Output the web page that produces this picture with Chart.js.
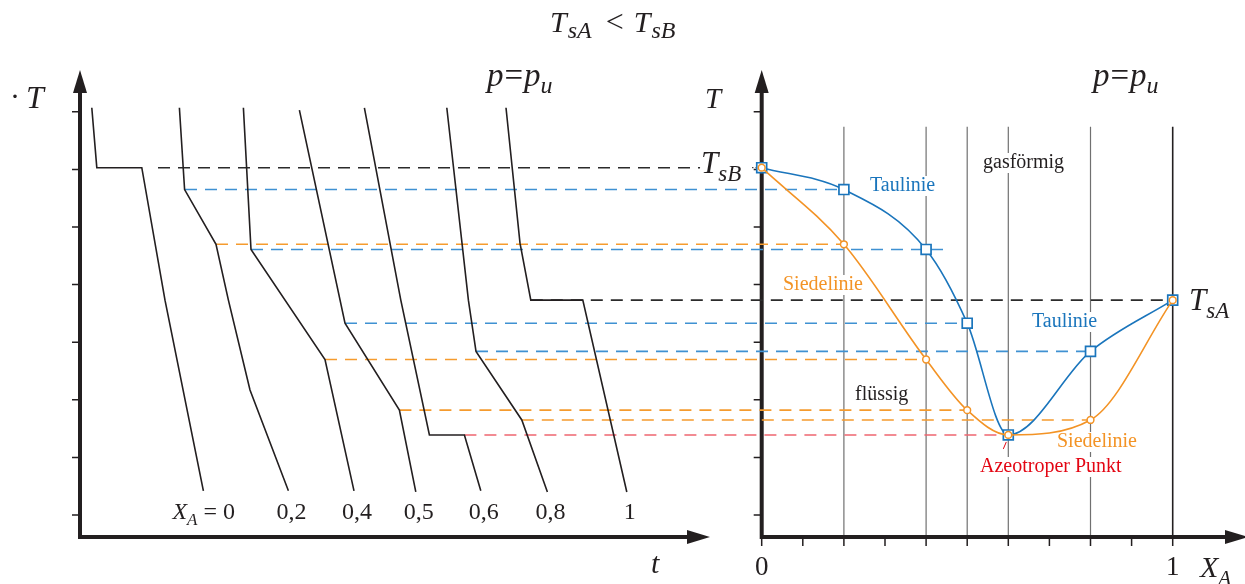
<!DOCTYPE html>
<html>
<head>
<meta charset="utf-8">
<script src="https://cdn.jsdelivr.net/npm/chart.js@4"></script>
<style>
  html, body { margin: 0; padding: 0; background: #fff; }
</style>
</head>
<body>
<canvas id="chart" width="1245" height="584"></canvas>
<script>
// compositions X_A of the seven samples
const compositions = [0, 0.2, 0.4, 0.5, 0.6, 0.8, 1];
// dew line (Taulinie) and boiling line (Siedelinie), T in axis tick units
const dewTemps = [6.03, 5.65, 4.61, 3.33, 1.39, 2.84, 3.73];
const boilTemps = [6.03, 4.70, 2.70, 1.82, 1.39, 1.65, 3.73];

// cooling curves T(t), one per composition
const coolTimes = [
    [0.59, 0.84, 3.09, 4.25, 6.17],
    [4.97, 5.23, 6.80, 7.42, 8.50, 10.42],
    [8.17, 8.55, 12.25, 13.70],
    [10.97, 13.25, 15.97, 16.79],
    [14.22, 16.04, 17.47, 19.22, 20.04],
    [18.34, 19.42, 19.80, 22.09, 23.37],
    [21.30, 22.00, 22.54, 25.14, 27.34]
];
const coolTemps = [
    [7.07, 6.03, 6.03, 3.73, 0.42],
    [7.07, 5.65, 4.70, 3.73, 2.17, 0.42],
    [7.07, 4.61, 2.70, 0.42],
    [7.03, 3.33, 1.82, 0.40],
    [7.07, 3.73, 1.39, 1.39, 0.42],
    [7.07, 3.73, 2.84, 1.65, 0.40],
    [7.07, 4.72, 3.73, 3.73, 0.40]
];
const coolLabels = ["0", "0,2", "0,4", "0,5", "0,6", "0,8", "1"];

// dashed links from the cooling curves to the T-X diagram
const linkTemps = [6.03, 5.65, 4.70, 4.61, 3.73, 3.33, 2.84, 2.70, 1.82, 1.65, 1.39];
const linkStartT = [3.90, 5.25, 6.80, 8.55, 22.54, 13.25, 19.80, 12.25, 15.97, 22.09, 19.22];
const linkEndX = [-0.15, 0.2, 0.2, 0.453, 1, 0.5, 0.8, 0.4, 0.5, 0.8, 0.6];
const linkKinds = ["pure", "dew", "boil", "dew", "pure", "dew", "dew", "boil", "boil", "boil", "azeo"];

const tTicks = [0, 1, 2, 3, 4, 5, 6, 7];
const xaTicks = [0, 0.1, 0.2, 0.3, 0.4, 0.5, 0.6, 0.7, 0.8, 0.9, 1];

const INK = "#231f20";
const BLUE = "#1a75bc";
const ORANGE = "#f39325";
const RED = "#e30613";
const linkColors = { pure: "#2b2b2b", dew: "#3f91d2", boil: "#f59b2e", azeo: "#ee6670" };
const SERIF = '"Liberation Serif", "DejaVu Serif", serif';

function setFont(ctx, p) {
    ctx.font = (p.i ? "italic " : "") + p.s + "px " + SERIF;
}

function drawParts(ctx, x, y, parts, align, bg) {
    let w = 0;
    parts.forEach(p => { setFont(ctx, p); w += ctx.measureText(p.text).width + (p.gap || 0); });
    let cx = align === "center" ? x - w / 2 : align === "right" ? x - w : x;
    if (bg) {
        ctx.fillStyle = "#fff";
        ctx.fillRect(cx - 2, y - parts[0].s * 0.75, w + 4, parts[0].s);
    }
    ctx.fillStyle = parts[0].c || INK;
    ctx.textBaseline = "alphabetic";
    ctx.textAlign = "left";
    parts.forEach(p => {
        setFont(ctx, p);
        ctx.fillText(p.text, cx, y + (p.dy || 0));
        cx += ctx.measureText(p.text).width + (p.gap || 0);
    });
}

function arrow(ctx, tipX, tipY, dir) {
    ctx.beginPath();
    if (dir === "up") {
        ctx.moveTo(tipX, tipY);
        ctx.lineTo(tipX - 7, tipY + 23);
        ctx.lineTo(tipX + 7, tipY + 23);
    } else {
        ctx.moveTo(tipX, tipY);
        ctx.lineTo(tipX - 23, tipY - 7);
        ctx.lineTo(tipX - 23, tipY + 7);
    }
    ctx.closePath();
    ctx.fill();
}

const diagramPlugin = {
    id: "diagram",
    beforeDatasetsDraw(chart) {
        const ctx = chart.ctx;
        const { t, xa, y } = chart.scales;
        const area = chart.chartArea;
        const x0 = area.left;
        const xr = xa.getPixelForValue(0);
        const yb = area.bottom;
        ctx.save();

        // composition lines in the T-X diagram
        const top = y.getPixelForValue(6.74);
        compositions.slice(1).forEach(c => {
            const px = xa.getPixelForValue(c);
            ctx.strokeStyle = c === 1 ? INK : "#707070";
            ctx.lineWidth = c === 1 ? 1.6 : 1.2;
            ctx.beginPath();
            ctx.moveTo(px, top);
            ctx.lineTo(px, yb);
            ctx.stroke();
        });

        // axes
        ctx.strokeStyle = INK;
        ctx.fillStyle = INK;
        ctx.lineWidth = 4;
        ctx.beginPath();
        ctx.moveTo(x0, yb + 2); ctx.lineTo(x0, area.top + 20);
        ctx.moveTo(x0 - 2, yb); ctx.lineTo(688, yb);
        ctx.moveTo(xr, yb + 2); ctx.lineTo(xr, area.top + 20);
        ctx.moveTo(xr - 2, yb); ctx.lineTo(1226, yb);
        ctx.stroke();
        arrow(ctx, x0, area.top, "up");
        arrow(ctx, xr, area.top, "up");
        arrow(ctx, 710, yb, "right");
        arrow(ctx, 1248, yb, "right");

        ctx.lineWidth = 1.5;
        ctx.beginPath();
        tTicks.forEach(v => {
            const py = y.getPixelForValue(v);
            ctx.moveTo(x0 - 8, py); ctx.lineTo(x0, py);
            ctx.moveTo(xr - 8, py); ctx.lineTo(xr, py);
        });
        xaTicks.forEach(v => {
            const px = xa.getPixelForValue(v);
            ctx.moveTo(px, yb); ctx.lineTo(px, yb + 9);
        });
        ctx.stroke();

        // region and line labels
        const lab = (txt, x, yy, c) => drawParts(ctx, x, yy, [{ text: txt, s: 20, c: c }], "left", true);
        lab("Taulinie", 870, 191, BLUE);
        lab("Siedelinie", 783, 290, ORANGE);
        lab("gasförmig", 983, 168, INK);
        lab("flüssig", 855, 400, INK);
        lab("Taulinie", 1032, 327, BLUE);
        lab("Siedelinie", 1057, 447, ORANGE);
        lab("Azeotroper Punkt", 980, 472, RED);

        // pointer to the azeotropic point
        const az = compositions.indexOf(0.6);
        const ax = xa.getPixelForValue(compositions[az]);
        const ay = y.getPixelForValue(dewTemps[az]);
        ctx.strokeStyle = RED;
        ctx.lineWidth = 1;
        ctx.beginPath();
        ctx.moveTo(ax - 2, ay + 7);
        ctx.lineTo(ax - 5, ay + 14);
        ctx.stroke();

        // dashed links
        ctx.lineWidth = 1.6;
        ctx.setLineDash([12, 8]);
        linkTemps.forEach((T, i) => {
            const py = y.getPixelForValue(T);
            ctx.strokeStyle = linkColors[linkKinds[i]];
            ctx.beginPath();
            ctx.moveTo(t.getPixelForValue(linkStartT[i]), py);
            ctx.lineTo(xa.getPixelForValue(linkEndX[i]), py);
            ctx.stroke();
        });
        // dotted lead from T_sB label to the axis
        ctx.strokeStyle = INK;
        ctx.lineWidth = 1;
        ctx.setLineDash([1.5, 2]);
        const pyB = y.getPixelForValue(dewTemps[0]);
        ctx.beginPath();
        ctx.moveTo(752, pyB);
        ctx.lineTo(xr, pyB);
        ctx.stroke();
        ctx.setLineDash([]);

        ctx.restore();
    },
    afterDraw(chart) {
        const ctx = chart.ctx;
        const { t, xa, y } = chart.scales;
        ctx.save();

        // cooling curve labels under each curve
        coolLabels.forEach((txt, i) => {
            const times = coolTimes[i];
            const px = t.getPixelForValue(times[times.length - 1]);
            if (i === 0) {
                drawParts(ctx, px - 31, 519, [
                    { text: "X", s: 24, i: true },
                    { text: "A", s: 17, i: true, dy: 6 },
                    { text: " = " + txt, s: 24 }
                ], "left");
            } else {
                drawParts(ctx, px + 3, 519, [{ text: txt, s: 24 }], "center");
            }
        });

        // headings and axis titles
        drawParts(ctx, 550, 32, [
            { text: "T", s: 30, i: true, gap: 1 },
            { text: "sA", s: 24, i: true, dy: 6, gap: 14 },
            { text: "<", s: 32, gap: 10 },
            { text: "T", s: 30, i: true, gap: 1 },
            { text: "sB", s: 24, i: true, dy: 6 }
        ], "left");
        const pu = [
            { text: "p", s: 33, i: true, gap: 1 },
            { text: "=", s: 33, gap: 1 },
            { text: "p", s: 33, i: true },
            { text: "u", s: 24, i: true, dy: 7 }
        ];
        drawParts(ctx, 487, 86, pu, "left");
        drawParts(ctx, 1093, 86, pu, "left");
        drawParts(ctx, 10, 106, [{ text: "·", s: 30 }], "left");
        drawParts(ctx, 26, 108, [{ text: "T", s: 32, i: true }], "left");
        drawParts(ctx, 705, 108, [{ text: "T", s: 29, i: true }], "left");
        drawParts(ctx, 651, 573, [{ text: "t", s: 30, i: true }], "left");
        drawParts(ctx, xa.getPixelForValue(0), 575, [{ text: "0", s: 27 }], "center");
        drawParts(ctx, xa.getPixelForValue(1), 575, [{ text: "1", s: 27 }], "center");
        drawParts(ctx, 1200, 577, [
            { text: "X", s: 30, i: true },
            { text: "A", s: 21, i: true, dy: 8 }
        ], "left");
        drawParts(ctx, 701, y.getPixelForValue(dewTemps[0]) + 5, [
            { text: "T", s: 31, i: true },
            { text: "sB", s: 23, i: true, dy: 8 }
        ], "left");
        drawParts(ctx, 1189, y.getPixelForValue(dewTemps[6]) + 10, [
            { text: "T", s: 31, i: true },
            { text: "sA", s: 23, i: true, dy: 8 }
        ], "left");

        ctx.restore();
    }
};

const datasets = [];

datasets.push({
    data: compositions.map((c, i) => ({ x: c, y: boilTemps[i] })),
    xAxisID: "xa",
    yAxisID: "y",
    order: 0,
    borderColor: ORANGE,
    borderWidth: 1.6,
    cubicInterpolationMode: "monotone",
    pointStyle: "circle",
    pointRadius: 3.4,
    pointBackgroundColor: "#fff",
    pointBorderColor: ORANGE,
    pointBorderWidth: 1.5,
    clip: false
});

datasets.push({
    data: compositions.map((c, i) => ({ x: c, y: dewTemps[i] })),
    xAxisID: "xa",
    yAxisID: "y",
    order: 1,
    borderColor: BLUE,
    borderWidth: 1.6,
    cubicInterpolationMode: "monotone",
    pointStyle: "rect",
    pointRadius: 7,
    pointBackgroundColor: "#fff",
    pointBorderColor: BLUE,
    pointBorderWidth: 1.7,
    clip: false
});

coolTimes.forEach((times, i) => {
    datasets.push({
        data: times.map((tv, j) => ({ x: tv, y: coolTemps[i][j] })),
        xAxisID: "t",
        yAxisID: "y",
        order: 2,
        borderColor: INK,
        borderWidth: 1.6,
        pointRadius: 0,
        tension: 0
    });
});

new Chart(document.getElementById("chart"), {
    type: "line",
    data: { datasets: datasets },
    options: {
        responsive: false,
        animation: false,
        events: [],
        layout: { autoPadding: false, padding: { left: 80, right: 0, top: 70, bottom: 47 } },
        scales: {
            t: { type: "linear", min: 0, max: 58.25, display: false },
            xa: { type: "linear", min: -1.6586, max: 1.1759, display: false },
            y: { type: "linear", min: -0.382, max: 7.726, display: false }
        },
        plugins: {
            legend: { display: false },
            tooltip: { enabled: false }
        }
    },
    plugins: [diagramPlugin]
});
</script>
</body>
</html>
